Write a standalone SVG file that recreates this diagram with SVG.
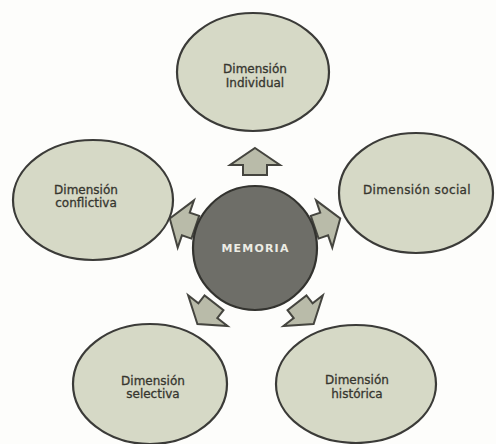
<svg xmlns="http://www.w3.org/2000/svg" width="496" height="444" viewBox="0 0 496 444">
<style>
.node ellipse{fill:#d6d9c6;stroke:#3b3b38;stroke-width:2.2}
.lbl{font-family:"DejaVu Sans",Verdana,sans-serif;font-size:12px;fill:#36362f;stroke:#36362f;stroke-width:0.3;text-anchor:middle}
.arr{fill:#b9bba9;stroke:#45453f;stroke-width:2;stroke-linejoin:miter}
</style>
<defs>
<path id="blk" d="M0,-14 L25,3 L12,3 L12,13 L-12,13 L-12,3 L-25,3 Z"/>
</defs>
<rect width="496" height="444" fill="#fdfdfb"/>
<g id="connectors">
<use href="#blk" class="arr" transform="translate(255,162)"/>
<use href="#blk" class="arr" transform="translate(327,223) rotate(71)"/>
<use href="#blk" class="arr" transform="translate(183,223) rotate(-71)"/>
<use href="#blk" class="arr" transform="translate(206,313) rotate(-142)"/>
<use href="#blk" class="arr" transform="translate(305,313) rotate(142)"/>
</g>
<g id="memoria">
<circle cx="255" cy="248" r="62" fill="#6e6e68" stroke="#33332f" stroke-width="2.2"/>
<text x="255.5" y="252" font-family="DejaVu Sans,Verdana,sans-serif" font-size="11" font-weight="bold" letter-spacing="1.2" fill="#ecece4" text-anchor="middle">MEMORIA</text>
</g>
<g id="individual" class="node">
<ellipse cx="253" cy="72" rx="76" ry="59"/>
<text class="lbl" x="255" y="73">Dimensión</text>
<text class="lbl" x="255" y="87">Individual</text>
</g>
<g id="social" class="node">
<ellipse cx="416" cy="193" rx="77" ry="60"/>
<text class="lbl" x="417" y="194" letter-spacing="0.4">Dimensión social</text>
</g>
<g id="conflictiva" class="node">
<ellipse cx="93" cy="200" rx="80" ry="60"/>
<text class="lbl" x="86" y="194">Dimensión</text>
<text class="lbl" x="86" y="207">conflictiva</text>
</g>
<g id="selectiva" class="node">
<ellipse cx="150" cy="384" rx="77" ry="60"/>
<text class="lbl" x="153" y="385">Dimensión</text>
<text class="lbl" x="153" y="398">selectiva</text>
</g>
<g id="historica" class="node">
<ellipse cx="356" cy="384" rx="80" ry="59"/>
<text class="lbl" x="357" y="384">Dimensión</text>
<text class="lbl" x="357" y="398">histórica</text>
</g>
</svg>
